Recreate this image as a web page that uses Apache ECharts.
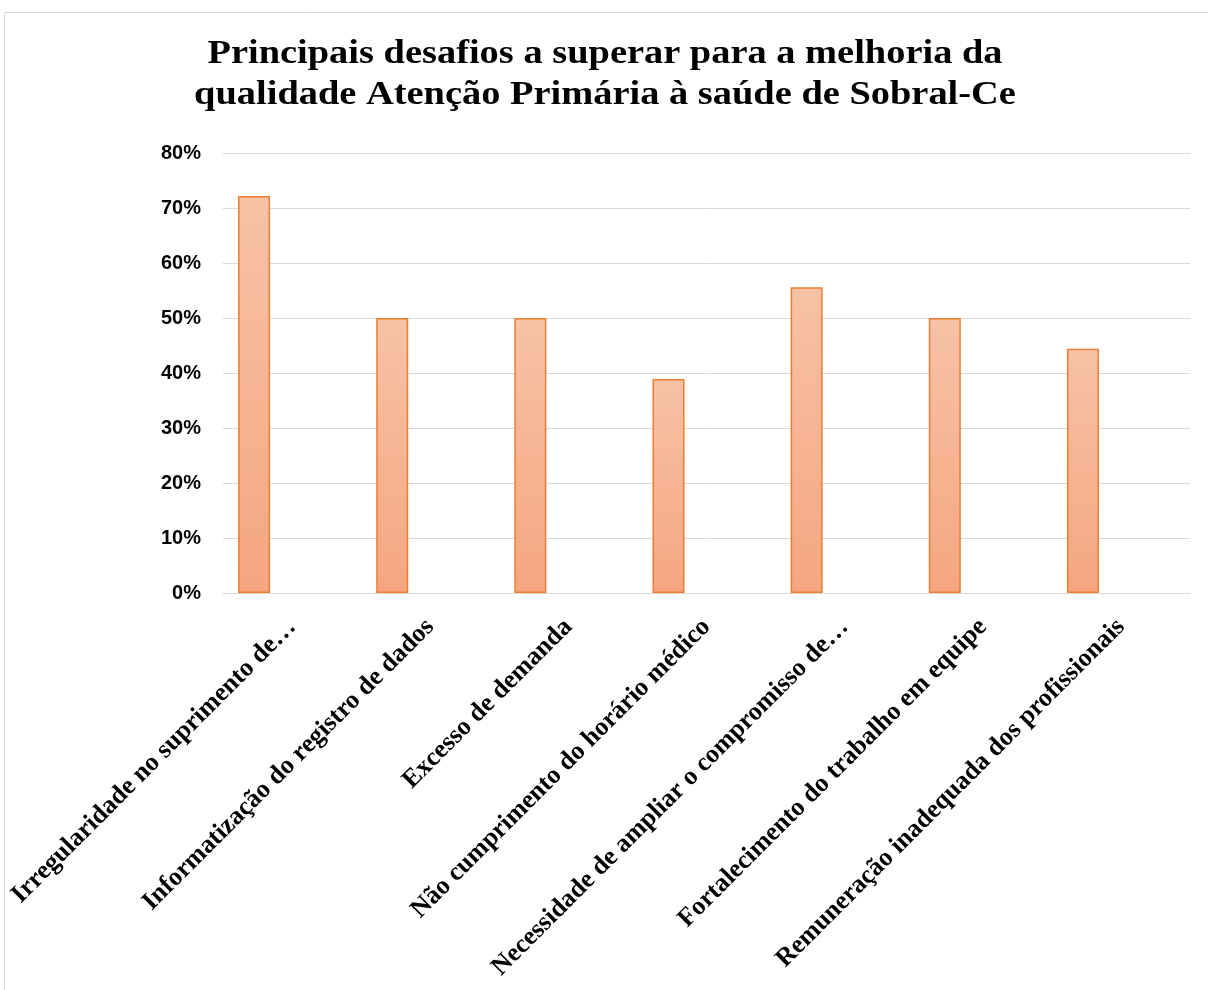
<!DOCTYPE html>
<html>
<head>
<meta charset="utf-8">
<title>Principais desafios</title>
<script src="https://cdn.jsdelivr.net/npm/echarts@6/dist/echarts.min.js"></script>
<style>
  html, body { margin: 0; padding: 0; background: #fff; }
  #chart { width: 1208px; height: 990px; }
</style>
</head>
<body>
<div id="chart"></div>
<script>
// dados
var categorias = [
  'Irregularidade no suprimento de\u2026',
  'Informatiza\u00e7\u00e3o do registro de dados',
  'Excesso de demanda',
  'N\u00e3o cumprimento do hor\u00e1rio m\u00e9dico',
  'Necessidade de ampliar o compromisso de\u2026',
  'Fortalecimento do trabalho em equipe',
  'Remunera\u00e7\u00e3o inadequada dos profissionais'
];
var valores = [72.2, 50, 50, 38.9, 55.6, 50, 44.4];
// segunda serie vazia (ocupa o espaco como no Excel)
var vazio = ['-', '-', '-', '-', '-', '-', '-'];
var yTicks = [0, 10, 20, 30, 40, 50, 60, 70, 80];
var titulo = 'Principais desafios a superar para a melhoria da\nqualidade Aten\u00e7\u00e3o Prim\u00e1ria \u00e0 sa\u00fade de Sobral-Ce';

var serif = '"Liberation Serif", "Times New Roman", serif';
var sans = '"Liberation Sans", Arial, sans-serif';

var chart = echarts.init(document.getElementById('chart'), null, {renderer: 'canvas'});

var option = {
  backgroundColor: '#fff',
  animation: false,
  graphic: [
    {
      // moldura da area do grafico
      type: 'rect',
      shape: {x: 4.5, y: 12.5, width: 1300, height: 1100},
      style: {fill: 'none', stroke: '#D9D9D9', lineWidth: 1},
      silent: true
    },
    {
      // titulo (esticado na horizontal como no original)
      type: 'text',
      x: 605,
      y: 34,
      scaleX: 1.13,
      style: {
        text: titulo,
        fontFamily: serif,
        fontWeight: 'bold',
        fontSize: 34,
        lineHeight: 41,
        fill: '#000',
        align: 'center',
        verticalAlign: 'top'
      }
    }
  ],
  grid: {
    left: 223,
    right: 18,
    top: 153,
    bottom: 397,
    containLabel: false
  },
  xAxis: {
    type: 'category',
    data: categorias,
    axisTick: {show: false},
    axisLine: {lineStyle: {color: '#D9D9D9', width: 1}},
    axisLabel: {
      interval: 0,
      rotate: 45,
      margin: 30,
      fontFamily: serif,
      fontWeight: 'bold',
      fontSize: 26,
      color: '#000'
    }
  },
  yAxis: {
    type: 'value',
    min: yTicks[0],
    max: yTicks[yTicks.length - 1],
    interval: 10,
    axisLine: {show: false},
    axisTick: {show: false},
    splitLine: {lineStyle: {color: '#D9D9D9', width: 1}},
    axisLabel: {
      margin: 22,
      formatter: '{value}%',
      fontFamily: sans,
      fontWeight: 'bold',
      fontSize: 20,
      color: '#000'
    }
  },
  series: [
    {
      name: 'Percentual',
      type: 'bar',
      data: valores,
      barWidth: 32,
      barGap: '137.5%',
      itemStyle: {
        borderColor: '#ED7D31',
        borderWidth: 1.5,
        color: new echarts.graphic.LinearGradient(0, 0, 0, 1, [
          {offset: 0, color: '#F7C2A7'},
          {offset: 1, color: '#F5A680'}
        ])
      }
    },
    {
      name: 'Vazio',
      type: 'bar',
      data: vazio,
      barWidth: 32
    }
  ]
};

chart.setOption(option);
</script>
</body>
</html>
